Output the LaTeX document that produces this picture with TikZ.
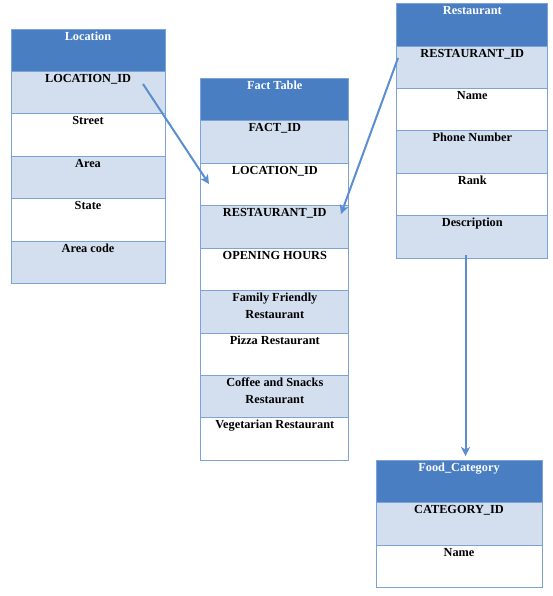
\documentclass[tikz,border=0pt]{standalone}
\usepackage{fontspec}
\setmainfont{Liberation Serif}
\usetikzlibrary{arrows.meta,calc}
\definecolor{hdr}{HTML}{4A7EC2}
\definecolor{lite}{HTML}{D3DFEF}
\definecolor{edge}{HTML}{7BA3D6}
\definecolor{link}{HTML}{5B8ED0}
\tikzset{
  cellbox/.style={draw=edge, line width=1pt, anchor=north west, inner sep=0pt, minimum height=42.4pt},
  headbox/.style={cellbox, fill=hdr},
  litebox/.style={cellbox, fill=lite},
  whitebox/.style={cellbox, fill=white},
  celltext/.style={anchor=base, font=\fontsize{12.3}{17}\selectfont\bfseries, align=center, inner sep=0pt},
  headtext/.style={celltext, text=white},
  linkarrow/.style={draw=link, line width=2pt, -{Stealth[length=9pt,width=9pt,inset=2.5pt]}}
}
\begin{document}
\begin{tikzpicture}[x=1pt,y=-1pt]
\useasboundingbox (0,0) rectangle (553,596);
\fill[white] (0,0) rectangle (553,596);

% Location table
\node[headbox, minimum width=154pt] (loc0) at (10.5,29.5) {};
\node[litebox, minimum width=154pt] (loc1) at (10.5,71) {};
\node[whitebox, minimum width=154pt] (loc2) at (10.5,113.4) {};
\node[litebox, minimum width=154pt] (loc3) at (10.5,155.8) {};
\node[whitebox, minimum width=154pt] (loc4) at (10.5,198.2) {};
\node[litebox, minimum width=154pt] (loc5) at (10.5,240.6) {};
\node[headtext] (loc0t) at ($(loc0.north)+(0,11.5)$) {Location};
\node[celltext] (loc1t) at ($(loc1.north)+(0,11.5)$) {LOCATION\_ID};
\node[celltext] (loc2t) at ($(loc2.north)+(0,11.5)$) {Street};
\node[celltext] (loc3t) at ($(loc3.north)+(0,11.5)$) {Area};
\node[celltext] (loc4t) at ($(loc4.north)+(0,11.5)$) {State};
\node[celltext] (loc5t) at ($(loc5.north)+(0,11.5)$) {Area code};

% Fact table
\node[headbox, minimum width=148pt] (fact0) at (200.3,78.3) {};
\node[litebox, minimum width=148pt] (fact1) at (200.3,120.5) {};
\node[whitebox, minimum width=148pt] (fact2) at (200.3,162.9) {};
\node[litebox, minimum width=148pt] (fact3) at (200.3,205.3) {};
\node[whitebox, minimum width=148pt] (fact4) at (200.3,247.7) {};
\node[litebox, minimum width=148pt] (fact5) at (200.3,290.1) {};
\node[whitebox, minimum width=148pt] (fact6) at (200.3,332.5) {};
\node[litebox, minimum width=148pt] (fact7) at (200.3,374.9) {};
\node[whitebox, minimum width=148pt] (fact8) at (200.3,417.3) {};
\node[headtext] (fact0t) at ($(fact0.north)+(0,11.5)$) {Fact Table};
\node[celltext] (fact1t) at ($(fact1.north)+(0,11.5)$) {FACT\_ID};
\node[celltext] (fact2t) at ($(fact2.north)+(0,11.5)$) {LOCATION\_ID};
\node[celltext] (fact3t) at ($(fact3.north)+(0,11.5)$) {RESTAURANT\_ID};
\node[celltext] (fact4t) at ($(fact4.north)+(0,11.5)$) {OPENING HOURS};
% two-line labels: base anchor sits on the last line
\node[celltext] (fact5t) at ($(fact5.north)+(0,28.5)$) {Family Friendly\\Restaurant};
\node[celltext] (fact6t) at ($(fact6.north)+(0,11.5)$) {Pizza Restaurant};
\node[celltext] (fact7t) at ($(fact7.north)+(0,28.5)$) {Coffee and Snacks\\Restaurant};
\node[celltext] (fact8t) at ($(fact8.north)+(0,11.5)$) {Vegetarian Restaurant};

% Restaurant table
\node[headbox, minimum width=151pt] (rest0) at (396.3,3.3) {};
\node[litebox, minimum width=151pt] (rest1) at (396.3,45.7) {};
\node[whitebox, minimum width=151pt] (rest2) at (396.3,88.1) {};
\node[litebox, minimum width=151pt] (rest3) at (396.3,130.5) {};
\node[whitebox, minimum width=151pt] (rest4) at (396.3,172.9) {};
\node[litebox, minimum width=151pt] (rest5) at (396.3,215.3) {};
\node[headtext] (rest0t) at ($(rest0.north)+(0,11.5)$) {Restaurant};
\node[celltext] (rest1t) at ($(rest1.north)+(0,11.5)$) {RESTAURANT\_ID};
\node[celltext] (rest2t) at ($(rest2.north)+(0,11.5)$) {Name};
\node[celltext] (rest3t) at ($(rest3.north)+(0,11.5)$) {Phone Number};
\node[celltext] (rest4t) at ($(rest4.north)+(0,11.5)$) {Rank};
\node[celltext] (rest5t) at ($(rest5.north)+(0,11.5)$) {Description};

% Food_Category table
\node[headbox, minimum width=166pt] (food0) at (375.5,460.3) {};
\node[litebox, minimum width=166pt] (food1) at (375.5,502.3) {};
\node[whitebox, minimum width=166pt] (food2) at (375.5,544.5) {};
\node[headtext] (food0t) at ($(food0.north)+(0,11.5)$) {Food\_Category};
\node[celltext] (food1t) at ($(food1.north)+(0,11.5)$) {CATEGORY\_ID};
\node[celltext] (food2t) at ($(food2.north)+(0,11.5)$) {Name};

% Link end points
\coordinate (locsrc) at (143,84);
\coordinate (factloc) at (209,184);
\coordinate (restsrc) at (398,58);
\coordinate (factrest) at (341,214);
\coordinate (descsrc) at (465.5,255);
\coordinate (foodtop) at (465.5,456);

% Links
\draw[linkarrow] (locsrc) -- (factloc);
\draw[linkarrow] (restsrc) -- (factrest);
\draw[linkarrow] (descsrc) -- (foodtop);
\end{tikzpicture}
\end{document}
